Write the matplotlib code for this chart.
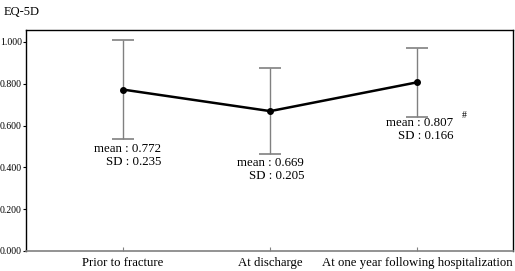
import numpy as np
import matplotlib.pyplot as plt

# data
categories = ["Prior to fracture", "At discharge", "At one year following hospitalization"]
means = [0.772, 0.669, 0.807]
sds = [0.235, 0.205, 0.166]
yticks = [0.0, 0.2, 0.4, 0.6, 0.8, 1.0]

plt.rcParams['font.family'] = ['Liberation Serif', 'DejaVu Serif']

fig = plt.figure(figsize=(5.15, 2.71), dpi=100)
ax = fig.add_axes([26 / 515, 20 / 271, 487 / 515, 221 / 271])

x = np.arange(len(categories))
ax.errorbar(x, means, yerr=sds, fmt='none', ecolor='#808080', elinewidth=1,
            capsize=8, capthick=1.2)
ax.plot(x, means, color='black', lw=1.8, marker='o', ms=4)

ax.set_xlim(-0.66, 2.65)
ax.set_ylim(0, 1.057)
ax.set_yticks(yticks)
ax.set_yticklabels(["%.3f" % v for v in yticks], fontsize=7)
ax.set_xticks(x)
ax.set_xticklabels(categories, fontsize=9.2)
ax.tick_params(axis='x', direction='in', length=3, color='#808080', pad=4)
ax.tick_params(axis='y', direction='out', length=2.5, pad=0.5)

for s in ['left', 'top', 'right']:
    ax.spines[s].set_linewidth(1.0)
ax.spines['bottom'].set_color('#808080')
ax.spines['bottom'].set_linewidth(1.2)

# annotation placement (offsets in data units)
dx = [0.26, 0.23, 0.245]
dy = [0.02, 0.014, 0.0]
for i, (m, sd) in enumerate(zip(means, sds)):
    label = "mean : %.3f\nSD : %.3f" % (m, sd)
    ax.text(x[i] + dx[i], m - sd - dy[i], label, ha='right', va='top',
            fontsize=9.3, linespacing=1.1)
ax.text(x[2] + 0.3, means[2] - sds[2] + 0.03, "#", fontsize=7, ha='left', va='top')

fig.text(4 / 515, 1 - 12 / 271, "EQ-5D", fontsize=9, va='center', ha='left')

fig.savefig("out.png", dpi=100)
